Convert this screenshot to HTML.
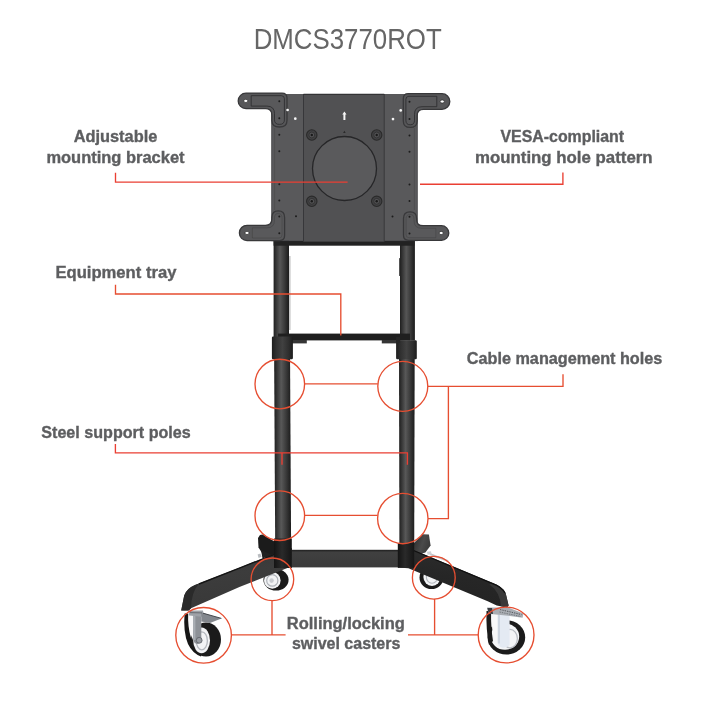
<!DOCTYPE html>
<html lang="en">
<head>
<meta charset="utf-8">
<title>DMCS3770ROT</title>
<style>
html,body{margin:0;padding:0;background:#fff;}
body{width:705px;height:705px;overflow:hidden;font-family:"Liberation Sans",sans-serif;}
svg{display:block;will-change:transform;}
.lbl{font-family:"Liberation Sans",sans-serif;font-weight:bold;font-size:16px;fill:#5d5e60;stroke:#5d5e60;stroke-width:0.35px;}
.ttl{font-family:"Liberation Sans",sans-serif;font-weight:normal;font-size:29.4px;fill:#666;}
.red{fill:none;stroke:#e64e31;stroke-width:1.35;}
</style>
</head>
<body>
<svg width="705" height="705" viewBox="0 0 705 705">
<defs>
  <linearGradient id="poleG" x1="0" x2="1" y1="0" y2="0">
    <stop offset="0" stop-color="#1e1e1e"/>
    <stop offset="0.15" stop-color="#343434"/>
    <stop offset="0.42" stop-color="#565656"/>
    <stop offset="0.7" stop-color="#3b3b3b"/>
    <stop offset="0.9" stop-color="#252525"/>
    <stop offset="1" stop-color="#1c1c1c"/>
  </linearGradient>
  <linearGradient id="poleL" x1="0" x2="1" y1="0" y2="0">
    <stop offset="0" stop-color="#1e1e1e"/>
    <stop offset="0.15" stop-color="#333"/>
    <stop offset="0.42" stop-color="#585858"/>
    <stop offset="0.7" stop-color="#3b3b3b"/>
    <stop offset="0.9" stop-color="#252525"/>
    <stop offset="1" stop-color="#1c1c1c"/>
  </linearGradient>
  <linearGradient id="collarG" x1="0" x2="1" y1="0" y2="0">
    <stop offset="0" stop-color="#1d1d1d"/>
    <stop offset="0.2" stop-color="#2f2f2f"/>
    <stop offset="0.5" stop-color="#414141"/>
    <stop offset="0.8" stop-color="#2e2e2e"/>
    <stop offset="1" stop-color="#1c1c1c"/>
  </linearGradient>
  <linearGradient id="sockG" x1="0" x2="1" y1="0" y2="0">
    <stop offset="0" stop-color="#141414"/>
    <stop offset="0.45" stop-color="#2a2a2a"/>
    <stop offset="1" stop-color="#151515"/>
  </linearGradient>
  <linearGradient id="barG" x1="0" x2="0" y1="0" y2="1">
    <stop offset="0" stop-color="#1c1c1c"/>
    <stop offset="0.14" stop-color="#404040"/>
    <stop offset="1" stop-color="#3a3a3a"/>
  </linearGradient>
  <linearGradient id="legL" x1="0" x2="0.3" y1="0" y2="1">
    <stop offset="0" stop-color="#343434"/>
    <stop offset="0.5" stop-color="#3c3c3c"/>
    <stop offset="1" stop-color="#383838"/>
  </linearGradient>
  <linearGradient id="legR" x1="0.3" x2="0" y1="0" y2="1">
    <stop offset="0" stop-color="#2c2c2c"/>
    <stop offset="0.4" stop-color="#262626"/>
    <stop offset="1" stop-color="#222"/>
  </linearGradient>
  <linearGradient id="kneeR" x1="0" x2="1" y1="0" y2="0.4">
    <stop offset="0" stop-color="#2a2a2a"/>
    <stop offset="0.6" stop-color="#4a4a4a"/>
    <stop offset="1" stop-color="#3a3a3a"/>
  </linearGradient>
</defs>
<rect width="705" height="705" fill="#fff"/>

<!-- title -->
<text class="ttl" x="253.7" y="49" textLength="188" lengthAdjust="spacingAndGlyphs">DMCS3770ROT</text>

<!-- ===== stand ===== -->
<g id="stand">
  <ellipse cx="276" cy="579.8" rx="12.6" ry="10.8" fill="#1a1a1a"/>
  <ellipse cx="272.3" cy="580.4" rx="8.3" ry="8.4" fill="#f2f3f5"/>
  <ellipse cx="272.3" cy="580.4" rx="5.6" ry="5.8" fill="none" stroke="#aeb2b8" stroke-width="1.2"/>
  <ellipse cx="271.6" cy="580.6" rx="2.2" ry="2.3" fill="#c9ccd1"/>
  <ellipse cx="431.5" cy="577.5" rx="12" ry="11.6" fill="#1a1a1a"/>
  <ellipse cx="432" cy="577" rx="8.6" ry="9" fill="#f2f3f5"/>
  <ellipse cx="432" cy="577.2" rx="5.6" ry="6" fill="none" stroke="#b4b8be" stroke-width="1.1"/>
  <path d="M430,553 L448.5,560.3 L448,562 L429.6,555 Z" fill="#c4c7cc"/>
  <path d="M260,535 L262.5,534.6 L274.5,541.5 L274.5,557 L265,557.6 L258.5,547.5 L258,538 Z" fill="#1b1b1b"/>
  <path d="M413.5,543.5 L422.6,534.2 L428.9,534.6 L430.6,545.5 L425.4,552.5 L413.5,556 Z" fill="url(#kneeR)"/>
  <path d="M261,550 L274.5,556 L274.5,554 L262.5,558.6 Z" fill="#202020"/>
  <path d="M257.6,554.6 L260.4,553.6 L261.6,556.8 L258.6,558 Z" fill="#b9bcc0"/>
  <path d="M427,551.8 L431,551.2 L431.6,554.3 L427.6,554.8 Z" fill="#cfd2d6"/>
  <rect x="273.6" y="240.5" width="15.4" height="98" fill="url(#poleG)"/>
  <rect x="289" y="256" width="1.6" height="74" fill="#9a9a9a" opacity="0.55"/>
  <rect x="400" y="240.5" width="14.9" height="100" fill="url(#poleG)"/>
  <rect x="399.2" y="258" width="1.2" height="18" rx="0.6" fill="#2a2a2a"/>
  <rect x="273.6" y="240.6" width="140.8" height="5.1" fill="#222"/>
  <rect x="278" y="333.6" width="132" height="6.8" fill="#1f1f1f"/>
  <rect x="289" y="340" width="17.8" height="3.4" fill="#353535"/>
  <rect x="381.8" y="340" width="16" height="3.4" fill="#353535"/>
  <path d="M274.1,350 L290,350 L291.1,545 L275.2,545 Z" fill="url(#poleL)"/>
  <path d="M399,350 L414.7,350 L414.2,545 L399.4,545 Z" fill="url(#poleL)"/>
  <rect x="271.9" y="336.6" width="21" height="22.6" rx="1.2" fill="url(#collarG)"/>
  <rect x="396.1" y="340.2" width="20.7" height="19" rx="1.2" fill="url(#collarG)"/>
  <rect x="396.1" y="337" width="4" height="6" fill="#262626"/>
  <rect x="291" y="549.8" width="108" height="17.6" fill="url(#barG)"/>
  <path d="M274.5,553.8 L240,567.4 L195,585 Q186.5,588.5 184.2,595.6 L181.2,610.4 L188.6,610.6 L191,608.3 L240,586.8 L286.8,568.3 L292,566 L292,548 Z" fill="url(#legL)"/>
  <path d="M274.5,554.3 L240,567.9 L199,584" fill="none" stroke="#151515" stroke-width="1.4"/>
  <path d="M195,585 Q186.5,588.5 184.2,595.6 L181.2,610.4 L188.6,610.6 L191,608.3 Q191,593 199,583.5 Z" fill="#2a2a2a"/>
  <path d="M413.5,550 L491.5,582.6 Q503,587 505.6,593 L508.6,605.5 L507,607.5 L496.7,605.4 L487.7,601.2 L408.4,568.3 L398,567.5 L398,548 Z" fill="url(#legR)"/>
  <path d="M491.5,582.6 Q503,587 505.6,593 L508.6,605.5 L507,607.5 L501,606.3 Q500,592 489.5,584.5 Z" fill="#383838"/>
  <path d="M413.5,550.5 L491.5,583.1 Q502,587 504.8,593" fill="none" stroke="#111" stroke-width="1.3"/>
  <path d="M274,538.5 L291.8,538.5 L291.8,568 L274,568 Z" fill="url(#sockG)"/>
  <path d="M397.8,543 L414.2,543 L414.2,567.8 L397.8,567.8 Z" fill="url(#sockG)"/>
  <path d="M184.6,613.5 Q183,632 188,644 Q192.5,653.5 201,656.4 L203,652 Q194.5,648 191,638 Q187.6,627 188.2,613.5 Z" fill="#161616"/>
  <ellipse cx="206" cy="639.6" rx="15" ry="17" fill="#1b1b1b"/>
  <ellipse cx="201.6" cy="640.4" rx="8.4" ry="12.8" fill="#f3f4f6"/>
  <ellipse cx="201.8" cy="640.8" rx="5.6" ry="9" fill="none" stroke="#b5b9bf" stroke-width="1.3"/>
  <path d="M189,616 L193.4,616 L193.4,641 Q190,634 189,625 Z" fill="#f7f7f8"/>
  <path d="M193.2,612 L201.3,612 L201.3,640 Q200,644 197,644 Q193.2,643 193.2,639 Z" fill="#8d9197"/>
  <rect x="193.2" y="612" width="2.2" height="28" fill="#a9adb3"/>
  <circle cx="199.2" cy="640.3" r="2.9" fill="#9a9ea4" stroke="#5c6066" stroke-width="0.8"/>
  <path d="M188.6,610.4 L203,610.6 L204,617 L189,615.5 Z" fill="#9ea2a8"/>
  <path d="M201.3,612.6 L221.4,618.4 L210,623 L201.3,621.5 Z" fill="#83878d"/>
  <path d="M203,613.2 L221.4,618.4" stroke="#44474c" stroke-width="1" fill="none"/>
  <path d="M190,612.6 L202,612.9" stroke="#5a5d62" stroke-width="0.8" fill="none"/>
  <ellipse cx="506.4" cy="637.4" rx="18.8" ry="17.2" fill="#1b1b1b"/>
  <ellipse cx="505" cy="636.6" rx="14.2" ry="13.2" fill="#f4f5f7"/>
  <path d="M486.5,611 L491.2,611 Q490.8,628 493,641 L489,645 Q485.9,630 486.5,611 Z" fill="#1b1b1b"/>
  <path d="M491.4,612 L498,612 L498,640 L494,640 Q491.6,630 491.4,612 Z" fill="#f8f8f9"/>
  <ellipse cx="510" cy="638.6" rx="7.4" ry="9.2" fill="none" stroke="#b9bdc3" stroke-width="1.3"/>
  <path d="M497.8,614 L509.6,615 L509.6,645 Q506,648.5 501.5,647.5 Q497.8,646 497.8,642 Z" fill="#e4eaf3"/>
  <rect x="497.8" y="614.5" width="2.2" height="29" fill="#cdd5e0"/>
  <path d="M487,607.6 L508.2,607.5 L523.4,613.4 L522.6,617.8 L508,615.8 L488.5,613.8 Z" fill="#a9adb3"/>
  <path d="M500,609.5 L521.5,614.6" stroke="#595c61" stroke-width="1" fill="none" stroke-dasharray="1.4 1"/>
  <path d="M499.5,612 L521,616.6" stroke="#6d7076" stroke-width="0.9" fill="none" stroke-dasharray="1.4 1"/>
  <path d="M487.4,608 L492,608 L493,614 L488.6,613.6 Z" fill="#3a3c40"/>
</g>

<!-- ===== bracket ===== -->
<g id="bracket">
  <rect x="271.7" y="94.5" width="145.6" height="146.2" fill="#59595b"/>
  <rect x="271.7" y="94.5" width="145.6" height="146.2" fill="none" stroke="#444446" stroke-width="0.8"/>
  <line x1="274.6" y1="128" x2="274.6" y2="210" stroke="#4a4a4c" stroke-width="0.7"/>
  <line x1="414.4" y1="128" x2="414.4" y2="210" stroke="#4a4a4c" stroke-width="0.7"/>
  <rect x="303.5" y="94" width="80.7" height="147.6" fill="#515153"/>
  <line x1="303.5" y1="94" x2="303.5" y2="241.6" stroke="#37373a" stroke-width="1"/>
  <line x1="384.2" y1="94" x2="384.2" y2="241.6" stroke="#37373a" stroke-width="1"/>
  <line x1="303.5" y1="94.4" x2="384.2" y2="94.4" stroke="#333335" stroke-width="1.1"/>
  <circle cx="344.5" cy="168.5" r="32" fill="#5a5a5c" stroke="#262628" stroke-width="1.3"/>
  <circle cx="311.8" cy="135" r="5.2" fill="#404042" stroke="#2a2a2a" stroke-width="1.1"/><circle cx="311.8" cy="135" r="2.9" fill="#525254" stroke="#2e2e2e" stroke-width="0.8"/><circle cx="311.8" cy="135" r="1.2" fill="#1a1a1a"/>
  <circle cx="376.7" cy="135" r="5.2" fill="#404042" stroke="#2a2a2a" stroke-width="1.1"/><circle cx="376.7" cy="135" r="2.9" fill="#525254" stroke="#2e2e2e" stroke-width="0.8"/><circle cx="376.7" cy="135" r="1.2" fill="#1a1a1a"/>
  <circle cx="311.8" cy="201.3" r="5.2" fill="#404042" stroke="#2a2a2a" stroke-width="1.1"/><circle cx="311.8" cy="201.3" r="2.9" fill="#525254" stroke="#2e2e2e" stroke-width="0.8"/><circle cx="311.8" cy="201.3" r="1.2" fill="#1a1a1a"/>
  <circle cx="376.7" cy="201.3" r="5.2" fill="#404042" stroke="#2a2a2a" stroke-width="1.1"/><circle cx="376.7" cy="201.3" r="2.9" fill="#525254" stroke="#2e2e2e" stroke-width="0.8"/><circle cx="376.7" cy="201.3" r="1.2" fill="#1a1a1a"/>
  <path d="M344.4,111.4 L346.5,114.6 L345.4,114.6 L345.4,120 L343.4,120 L343.4,114.6 L342.3,114.6 Z" fill="#f6f6f6"/>
  <path d="M344.4,130.8 L345.7,133 L343.1,133 Z" fill="#2a2a2a"/>
  <path d="M246.00,93.10 L282.00,93.10 Q287.00,93.10 287.00,98.10 L287.00,120.50 Q287.00,127.00 279.45,127.00 Q271.90,127.00 271.90,120.50 L271.90,115.20 Q271.90,108.70 265.40,108.70 L246.00,108.70 A7.80,7.80 0 0 1 246.00,93.10Z" fill="#575759" stroke="#38383a" stroke-width="1.3"/>
  <path d="M251.20,106.10 L251.20,95.70 L281.40,95.70 Q284.40,95.70 284.40,98.70 L284.40,119.90 Q284.40,124.40 279.45,124.40 Q274.50,124.40 274.50,119.90 L274.50,113.70 Q274.50,106.10 266.90,106.10 L251.20,106.10" fill="#59595b" stroke="#2f2f31" stroke-width="0.9" stroke-opacity="1.0"/>
  <ellipse cx="245.80" cy="100.90" rx="2.1" ry="1.6" fill="#fff" stroke="#2b2b2b" stroke-width="0.7"/>
  <path d="M442.00,93.70 L408.30,93.70 Q403.30,93.70 403.30,98.70 L403.30,120.90 Q403.30,127.40 410.20,127.40 Q417.10,127.40 417.10,120.90 L417.10,115.80 Q417.10,109.30 423.60,109.30 L442.00,109.30 A7.80,7.80 0 0 0 442.00,93.70Z" fill="#575759" stroke="#38383a" stroke-width="1.3"/>
  <path d="M436.80,106.70 L436.80,96.30 L408.90,96.30 Q405.90,96.30 405.90,99.30 L405.90,120.30 Q405.90,124.80 410.20,124.80 Q414.50,124.80 414.50,120.30 L414.50,114.30 Q414.50,106.70 422.10,106.70 L436.80,106.70" fill="#59595b" stroke="#2f2f31" stroke-width="0.9" stroke-opacity="1.0"/>
  <ellipse cx="442.20" cy="101.50" rx="2.1" ry="1.6" fill="#fff" stroke="#2b2b2b" stroke-width="0.7"/>
  <g transform="translate(0,335.10) scale(1,-1)">
  <path d="M247.05,94.50 L279.60,94.50 Q284.60,94.50 284.60,99.50 L284.60,117.70 Q284.60,124.20 278.25,124.20 Q271.90,124.20 271.90,117.70 L271.90,116.30 Q271.90,109.80 265.40,109.80 L247.05,109.80 A7.65,7.65 0 0 1 247.05,94.50Z" fill="#575759" stroke="#38383a" stroke-width="1.3"/>
  <path d="M252.40,107.20 L252.40,97.10 L279.00,97.10 Q282.00,97.10 282.00,100.10 L282.00,117.10 Q282.00,121.60 278.25,121.60 Q274.50,121.60 274.50,117.10 L274.50,114.80 Q274.50,107.20 266.90,107.20 L252.40,107.20" fill="#59595b" stroke="#2f2f31" stroke-width="0.9" stroke-opacity="0.3"/>
  <ellipse cx="247.00" cy="102.15" rx="2.1" ry="1.6" fill="#fff" stroke="#2b2b2b" stroke-width="0.7"/>
</g>
  <g transform="translate(0,335.40) scale(1,-1)">
  <path d="M441.50,95.10 L408.50,95.10 Q403.50,95.10 403.50,100.10 L403.50,117.00 Q403.50,123.50 410.05,123.50 Q416.60,123.50 416.60,117.00 L416.60,116.20 Q416.60,109.70 423.10,109.70 L441.50,109.70 A7.30,7.30 0 0 0 441.50,95.10Z" fill="#575759" stroke="#38383a" stroke-width="1.3"/>
  <path d="M435.80,107.10 L435.80,97.70 L409.10,97.70 Q406.10,97.70 406.10,100.70 L406.10,116.40 Q406.10,120.90 410.05,120.90 Q414.00,120.90 414.00,116.40 L414.00,114.70 Q414.00,107.10 421.60,107.10 L435.80,107.10" fill="#59595b" stroke="#2f2f31" stroke-width="0.9" stroke-opacity="0.3"/>
  <ellipse cx="441.20" cy="102.40" rx="2.1" ry="1.6" fill="#fff" stroke="#2b2b2b" stroke-width="0.7"/>
</g>
  <circle cx="279.3" cy="101.3" r="1.0" fill="#1c1c1c"/>
<circle cx="279.3" cy="118.2" r="1.0" fill="#1c1c1c"/>
<circle cx="279.3" cy="134.8" r="1.0" fill="#1c1c1c"/>
<circle cx="279.3" cy="151.3" r="1.0" fill="#1c1c1c"/>
<circle cx="279.3" cy="184.2" r="1.0" fill="#1c1c1c"/>
<circle cx="279.3" cy="200.5" r="1.0" fill="#1c1c1c"/>
<circle cx="279.3" cy="216.4" r="1.0" fill="#1c1c1c"/>
<circle cx="279.3" cy="233.2" r="1.0" fill="#1c1c1c"/>
  <circle cx="409.5" cy="101.8" r="1.0" fill="#1c1c1c"/>
<circle cx="409.5" cy="118.9" r="1.0" fill="#1c1c1c"/>
<circle cx="409.5" cy="135.4" r="1.0" fill="#1c1c1c"/>
<circle cx="409.5" cy="151.8" r="1.0" fill="#1c1c1c"/>
<circle cx="409.5" cy="184.6" r="1.0" fill="#1c1c1c"/>
<circle cx="409.5" cy="200.9" r="1.0" fill="#1c1c1c"/>
<circle cx="409.5" cy="216.8" r="1.0" fill="#1c1c1c"/>
<circle cx="409.5" cy="233.5" r="1.0" fill="#1c1c1c"/>
  <circle cx="287.6" cy="110" r="1.35" fill="#f6f6f6"/>
  <circle cx="295.3" cy="118.7" r="1.35" fill="#f6f6f6"/>
  <circle cx="400.7" cy="110.4" r="1.35" fill="#f6f6f6"/>
  <circle cx="393" cy="119.1" r="1.35" fill="#f6f6f6"/>
  <circle cx="296" cy="216.3" r="1.0" fill="#1c1c1c"/>
  <circle cx="392.5" cy="216.6" r="1.0" fill="#1c1c1c"/>
</g>

<!-- ===== red callouts ===== -->
<g class="red" style="stroke:#ea3f33">
  <path d="M115.5,172.8 V182.1 H347.6"/>
  <path d="M562.9,172.4 V184.2 H420"/>
  <path d="M115.4,444 V452.8 H407.4 V464.8 M282,452.8 V464.8"/>
</g>
<g class="red">
  <path d="M115.5,284.8 V294 H340.8 V335.6"/>
  <circle cx="279.8" cy="384" r="24.8"/>
  <circle cx="402.8" cy="386.3" r="25"/>
  <circle cx="279.8" cy="515.7" r="24.8"/>
  <circle cx="402.8" cy="518.5" r="25.2"/>
  <path d="M304.6,383.9 H377.8"/>
  <path d="M304.6,515.4 H377.6"/>
  <path d="M563,374.3 V386.4 H427.8 M448.4,386.4 V518.6 H428"/>
  <circle cx="272.4" cy="579.3" r="21.3"/>
  <circle cx="433.8" cy="577.7" r="21.4"/>
  <circle cx="203.6" cy="635.3" r="27.8"/>
  <circle cx="506.1" cy="635" r="27.9"/>
  <path d="M272,600.6 V634.8 M231.4,634.8 H285.6"/>
  <path d="M434.6,599.1 V634.8 M408,634.8 H478.2"/>
</g>

<!-- ===== labels ===== -->
<g class="lbl">
  <text x="73.7" y="141.9" textLength="83.6" lengthAdjust="spacingAndGlyphs">Adjustable</text>
  <text x="46.4" y="162.7" textLength="138.2" lengthAdjust="spacingAndGlyphs">mounting bracket</text>
  <text x="500.5" y="141.9" textLength="123.6" lengthAdjust="spacingAndGlyphs">VESA-compliant</text>
  <text x="475" y="162.8" textLength="177.6" lengthAdjust="spacingAndGlyphs">mounting hole pattern</text>
  <text x="55.4" y="278.2" textLength="121" lengthAdjust="spacingAndGlyphs">Equipment tray</text>
  <text x="466.8" y="364.3" textLength="195.5" lengthAdjust="spacingAndGlyphs">Cable management holes</text>
  <text x="41.3" y="437.8" textLength="149.4" lengthAdjust="spacingAndGlyphs">Steel support poles</text>
  <text x="286.8" y="628.6" textLength="118" lengthAdjust="spacingAndGlyphs">Rolling/locking</text>
  <text x="291.9" y="649.4" textLength="108.5" lengthAdjust="spacingAndGlyphs">swivel casters</text>
</g>
</svg>
</body>
</html>
